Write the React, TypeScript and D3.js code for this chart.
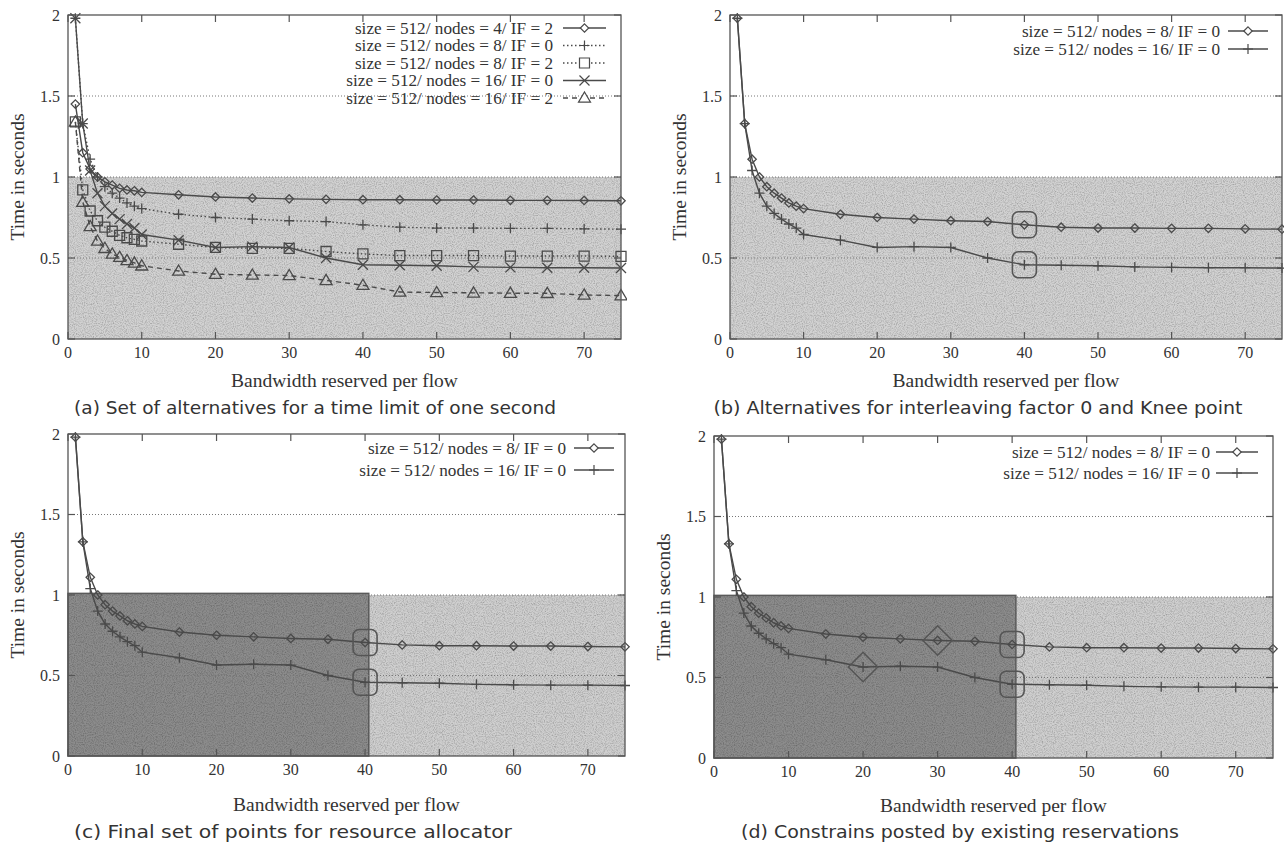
import React from 'react';
import * as d3 from 'd3';

// ---------- data ----------
const xValues = [1, 2, 3, 4, 5, 6, 7, 8, 9, 10, 15, 20, 25, 30, 35, 40, 45, 50, 55, 60, 65, 70, 75];
const n4if2 = [1.45, 1.15, 1.05, 1.0, 0.97, 0.95, 0.93, 0.92, 0.915, 0.905, 0.89, 0.877, 0.87, 0.865, 0.862, 0.86, 0.86, 0.858, 0.858, 0.856, 0.856, 0.855, 0.853];
const n8if0 = [1.98, 1.33, 1.11, 1.0, 0.94, 0.9, 0.87, 0.84, 0.82, 0.805, 0.77, 0.75, 0.74, 0.73, 0.725, 0.705, 0.69, 0.685, 0.685, 0.683, 0.683, 0.68, 0.678];
const n8if2 = [1.34, 0.92, 0.79, 0.73, 0.69, 0.665, 0.64, 0.625, 0.615, 0.605, 0.585, 0.565, 0.56, 0.56, 0.54, 0.525, 0.515, 0.515, 0.515, 0.512, 0.512, 0.512, 0.51];
const n16if0 = [1.98, 1.33, 1.04, 0.9, 0.82, 0.775, 0.74, 0.71, 0.685, 0.645, 0.61, 0.565, 0.57, 0.565, 0.5, 0.458, 0.455, 0.452, 0.445, 0.442, 0.44, 0.44, 0.438];
const n16if2 = [1.34, 0.845, 0.695, 0.605, 0.56, 0.525, 0.505, 0.485, 0.47, 0.452, 0.42, 0.4, 0.395, 0.392, 0.362, 0.332, 0.29, 0.287, 0.285, 0.283, 0.282, 0.272, 0.268];

const labelN4IF2 = 'size = 512/ nodes = 4/ IF = 2';
const labelN8IF0 = 'size = 512/ nodes = 8/ IF = 0';
const labelN8IF2 = 'size = 512/ nodes = 8/ IF = 2';
const labelN16IF0 = 'size = 512/ nodes = 16/ IF = 0';
const labelN16IF2 = 'size = 512/ nodes = 16/ IF = 2';

const xTicks = [0, 10, 20, 30, 40, 50, 60, 70];
const yTicks = [0, 0.5, 1, 1.5, 2];
const yTickLabels = ['0', '0.5', '1', '1.5', '2'];
const gridValues = [0.5, 1, 1.5];
const xDomain = [0, 75];
const yDomain = [0, 2];
const timeLimit = 1;
const kneeX = 40;
const reservedLimitX = 40.5;
const reservedLimitY = 1.01;
const constraintN8 = 30;
const constraintN16 = 20;

const captions = [
  '(a) Set of alternatives for a time limit of one second',
  '(b) Alternatives for interleaving factor 0 and Knee point',
  '(c) Final set of points for resource allocator',
  '(d) Constrains posted by existing reservations',
];
const xAxisTitle = 'Bandwidth reserved per flow';
const yAxisTitle = 'Time in seconds';

// ---------- styling ----------
const INK = '#4a4a4a';
const TEXT = '#333';
const SERIF = '"Liberation Serif", "Times New Roman", serif';
const SANS = '"DejaVu Sans", sans-serif';

type Marker = 'diamond' | 'plus' | 'square' | 'cross' | 'triangle';
type SeriesDef = { label: string; values: number[]; marker: Marker; dash?: string };

function markerPath(m: Marker, x: number, y: number, s = 1): string {
  switch (m) {
    case 'diamond': {
      const r = 4.2 * s;
      return `M${x},${y - r}L${x + r},${y}L${x},${y + r}L${x - r},${y}Z`;
    }
    case 'plus': {
      const r = 5 * s;
      return `M${x - r},${y}H${x + r}M${x},${y - r}V${y + r}`;
    }
    case 'square': {
      const r = 5 * s;
      return `M${x - r},${y - r}H${x + r}V${y + r}H${x - r}Z`;
    }
    case 'cross': {
      const r = 5 * s;
      return `M${x - r},${y - r}L${x + r},${y + r}M${x - r},${y + r}L${x + r},${y - r}`;
    }
    case 'triangle': {
      const r = 6 * s;
      return `M${x},${y - r}L${x + r},${y + r * 0.7}L${x - r},${y + r * 0.7}Z`;
    }
  }
}

type PanelProps = {
  id: string;
  x0: number; x1: number; top: number; bottom: number;
  series: SeriesDef[];
  legendEnd: number; legendLine: [number, number]; legendRows: number[];
  split: boolean;
  knee: boolean;
  constraints: boolean;
  caption: string; captionX: number; captionY: number; captionW: number;
  xTitleY: number;
};

function Panel(p: PanelProps) {
  const x = d3.scaleLinear().domain(xDomain).range([p.x0, p.x1]);
  const y = d3.scaleLinear().domain(yDomain).range([p.bottom, p.top]);
  const line = d3.line<number>().x((_, i) => x(xValues[i])).y((d) => y(d));
  const clipId = `clip-${p.id}`;
  const tickLen = 7;

  const kneeIdx = xValues.indexOf(kneeX);
  const iN8 = xValues.indexOf(constraintN8);
  const iN16 = xValues.indexOf(constraintN16);

  return (
    <g>
      <defs>
        <clipPath id={clipId}>
          <rect x={p.x0} y={p.top - 6} width={p.x1 - p.x0 + 6} height={p.bottom - p.top + 6} />
        </clipPath>
      </defs>
      {/* shading */}
      {!p.split && (
        <rect x={x(0)} y={y(timeLimit)} width={x(75) - x(0)} height={y(0) - y(timeLimit)} fill="#d2d2d2" filter="url(#grain)" />
      )}
      {p.split && (
        <g>
          <rect x={x(reservedLimitX)} y={y(timeLimit)} width={x(75) - x(reservedLimitX)} height={y(0) - y(timeLimit)} fill="#cfcfcf" filter="url(#grain)" />
          <rect x={x(0)} y={y(reservedLimitY)} width={x(reservedLimitX) - x(0)} height={y(0) - y(reservedLimitY)} fill="#8c8c8c" filter="url(#grain)" />
          <rect x={x(0)} y={y(reservedLimitY)} width={x(reservedLimitX) - x(0)} height={y(0) - y(reservedLimitY)} fill="none" stroke="#5a5a5a" strokeWidth={1.5} />
        </g>
      )}
      {/* grid */}
      {gridValues.map((g) => (
        <line key={g} x1={p.x0} x2={p.x1} y1={y(g)} y2={y(g)} stroke="#777" strokeWidth={1} strokeDasharray="1,2" />
      ))}
      {/* series */}
      <g clipPath={`url(#${clipId})`}>
        {p.series.map((s) => (
          <path key={s.label + 'l'} d={line(s.values) || ''} fill="none" stroke={INK} strokeWidth={1.4} strokeDasharray={s.dash} />
        ))}
        {p.series.map((s) => (
          <g key={s.label + 'm'}>
            {s.values.map((v, i) => (
              <path key={i} d={markerPath(s.marker, x(xValues[i]), y(v))} fill="none" stroke={INK} strokeWidth={1.3} />
            ))}
          </g>
        ))}
      </g>
      {/* knee markers */}
      {p.knee && p.series.map((s) => (
        <rect key={s.label + 'k'} x={x(kneeX) - 12} y={y(s.values[kneeIdx]) - 13} width={24} height={26} rx={6} fill="none" stroke="#555" strokeWidth={1.6} />
      ))}
      {p.constraints && (
        <g>
          <path d={markerPath('diamond', x(constraintN8), y(p.series[0].values[iN8]), 3.5)} fill="none" stroke="#555" strokeWidth={1.5} />
          <path d={markerPath('diamond', x(constraintN16), y(p.series[1].values[iN16]), 3.5)} fill="none" stroke="#555" strokeWidth={1.5} />
        </g>
      )}
      {/* border */}
      <rect x={p.x0} y={p.top} width={p.x1 - p.x0} height={p.bottom - p.top} fill="none" stroke="#555" strokeWidth={1.3} />
      {/* ticks */}
      {xTicks.map((t) => (
        <g key={'xt' + t}>
          <line x1={x(t)} x2={x(t)} y1={p.bottom} y2={p.bottom - tickLen} stroke="#555" strokeWidth={1.2} />
          <line x1={x(t)} x2={x(t)} y1={p.top} y2={p.top + tickLen} stroke="#555" strokeWidth={1.2} />
          <text x={x(t)} y={p.bottom + 19} textAnchor="middle" fontFamily={SERIF} fontSize={16} fill={TEXT}>{t}</text>
        </g>
      ))}
      {yTicks.map((t, i) => (
        <g key={'yt' + t}>
          <line x1={p.x0} x2={p.x0 + tickLen} y1={y(t)} y2={y(t)} stroke="#555" strokeWidth={1.2} />
          <line x1={p.x1} x2={p.x1 - tickLen} y1={y(t)} y2={y(t)} stroke="#555" strokeWidth={1.2} />
          <text x={p.x0 - 8} y={y(t) + 5.5} textAnchor="end" fontFamily={SERIF} fontSize={16} fill={TEXT}>{yTickLabels[i]}</text>
        </g>
      ))}
      {/* axis titles */}
      <text transform={`translate(${p.x0 - 44},${(p.top + p.bottom) / 2}) rotate(-90)`} textAnchor="middle" fontFamily={SERIF} fontSize={19.5} fill={TEXT}>{yAxisTitle}</text>
      <text x={(p.x0 + p.x1) / 2} y={p.xTitleY} textAnchor="middle" fontFamily={SERIF} fontSize={19.5} fill={TEXT}>{xAxisTitle}</text>
      {/* legend */}
      {p.series.map((s, i) => {
        const ly = p.legendRows[i];
        const mx = (p.legendLine[0] + p.legendLine[1]) / 2;
        return (
          <g key={s.label + 'lg'}>
            <text x={p.legendEnd} y={ly + 5.5} textAnchor="end" fontFamily={SERIF} fontSize={17.2} fill={TEXT}>{s.label}</text>
            <line x1={p.legendLine[0]} x2={p.legendLine[1]} y1={ly} y2={ly} stroke={INK} strokeWidth={1.4} strokeDasharray={s.dash} />
            <path d={markerPath(s.marker, mx, ly)} fill="#fff" stroke={INK} strokeWidth={1.2} />
          </g>
        );
      })}
      {/* caption */}
      <text x={p.captionX} y={p.captionY} textAnchor="middle" fontFamily={SANS} fontSize={18.5} fill={TEXT}
        textLength={p.captionW} lengthAdjust="spacingAndGlyphs">{p.caption}</text>
    </g>
  );
}

const seriesA: SeriesDef[] = [
  { label: labelN4IF2, values: n4if2, marker: 'diamond' },
  { label: labelN8IF0, values: n8if0, marker: 'plus', dash: '1.5,2.5' },
  { label: labelN8IF2, values: n8if2, marker: 'square', dash: '1.5,2.5' },
  { label: labelN16IF0, values: n16if0, marker: 'cross' },
  { label: labelN16IF2, values: n16if2, marker: 'triangle', dash: '5,4' },
];
const seriesB: SeriesDef[] = [
  { label: labelN8IF0, values: n8if0, marker: 'diamond' },
  { label: labelN16IF0, values: n16if0, marker: 'plus' },
];

export default function App() {
  return (
    <svg width={1284} height={845} style={{ position: 'absolute', left: 0, top: 0, background: '#fff' }}>
      <defs>
        <filter id="grain" x="0" y="0" width="1" height="1">
          <feTurbulence type="fractalNoise" baseFrequency="0.9" numOctaves="2" seed="3" result="noise" />
          <feColorMatrix in="noise" type="matrix" values="0 0 0 0 0  0 0 0 0 0  0 0 0 0 0  0 0 0 -0.9 0.55" result="dots" />
          <feComposite in="dots" in2="SourceGraphic" operator="in" result="clipped" />
          <feMerge>
            <feMergeNode in="SourceGraphic" />
            <feMergeNode in="clipped" />
          </feMerge>
        </filter>
      </defs>
      <rect width={1284} height={845} fill="#fff" />
      <Panel id="a" x0={68} x1={621} top={15} bottom={339} series={seriesA}
        legendEnd={553} legendLine={[563, 606]} legendRows={[28, 45.5, 63, 80.5, 98]}
        split={false} knee={false} constraints={false}
        caption={captions[0]} captionX={315} captionY={414} captionW={482} xTitleY={387} />
      <Panel id="b" x0={730} x1={1282} top={15} bottom={339} series={seriesB}
        legendEnd={1220} legendLine={[1228, 1268]} legendRows={[31, 49]}
        split={false} knee={true} constraints={false}
        caption={captions[1]} captionX={978} captionY={414} captionW={529} xTitleY={387} />
      <Panel id="c" x0={68} x1={625} top={434} bottom={756} series={seriesB}
        legendEnd={566} legendLine={[574, 614]} legendRows={[448, 470]}
        split={true} knee={true} constraints={false}
        caption={captions[2]} captionX={293} captionY={838} captionW={438} xTitleY={811} />
      <Panel id="d" x0={714} x1={1273} top={436} bottom={758} series={seriesB}
        legendEnd={1210} legendLine={[1216, 1258]} legendRows={[452, 473]}
        split={true} knee={true} constraints={true}
        caption={captions[3]} captionX={960} captionY={838} captionW={438} xTitleY={812} />
    </svg>
  );
}
